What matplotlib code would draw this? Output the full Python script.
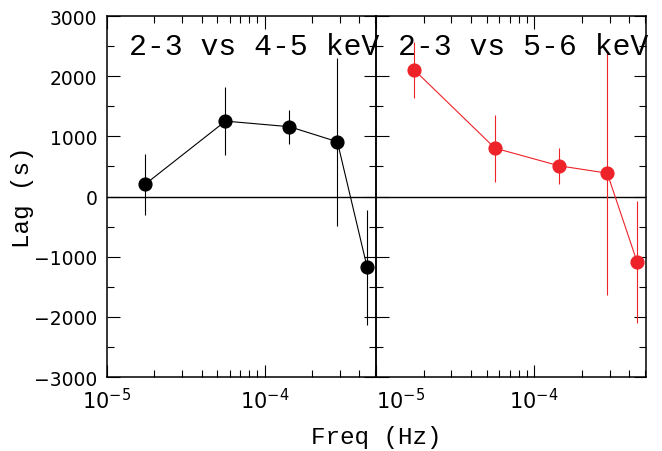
import numpy as np
import matplotlib.pyplot as plt
from matplotlib.ticker import MultipleLocator, LogLocator, NullFormatter

# frequency bins (Hz) and lags (s) with 1-sigma errors
freq = np.array([1.75e-5, 5.65e-5, 1.44e-4, 2.9e-4, 4.48e-4])
lag_45 = np.array([205, 1253, 1160, 910, -1176])
err_45 = np.array([505, 560, 280, 1400, 957])
lag_56 = np.array([2101, 804, 510, 388, -1087])
err_56 = np.array([470, 557, 297, 2030, 1010])

titles = ['2-3 vs 4-5 keV', '2-3 vs 5-6 keV']
xticks = [1e-5, 1e-4]
xticklabels = ['$10^{-5}$', '$10^{-4}$']

mono = 'Liberation Mono'
red = '#ee2229'

plt.rcParams['font.family'] = 'DejaVu Sans'
plt.rcParams['mathtext.fontset'] = 'dejavusans'

fig = plt.figure(figsize=(6.62, 4.52), dpi=100)
W, H = 662, 452
bottom = (H - 378) / H
height = 361 / H
ax1 = fig.add_axes([107 / W, bottom, 269 / W, height])
ax2 = fig.add_axes([376 / W, bottom, 270 / W, height])
ax2.set_facecolor('none')

for ax, lag, err, col, title in [(ax1, lag_45, err_45, 'black', titles[0]),
                                 (ax2, lag_56, err_56, red, titles[1])]:
    ax.axhline(0, color='black', lw=1.0, zorder=1)
    ax.errorbar(freq, lag, yerr=err, fmt='o-', color=col, ms=9.2, lw=0.8,
                elinewidth=0.8, capsize=0, zorder=3)
    ax.set_xscale('log')
    ax.set_xlim(1e-5, 5.1e-4)
    ax.set_ylim(-3000, 3000)
    ax.yaxis.set_major_locator(MultipleLocator(1000))
    ax.yaxis.set_minor_locator(MultipleLocator(500))
    ax.xaxis.set_minor_locator(LogLocator(base=10, subs=np.arange(2, 10)))
    ax.xaxis.set_minor_formatter(NullFormatter())
    ax.set_xticks(xticks, labels=xticklabels)
    ax.tick_params(which='both', direction='in', top=True, right=True, width=0.8)
    ax.tick_params(which='major', length=9, pad=7)
    ax.tick_params(which='minor', length=5)
    ax.tick_params(axis='x', labelsize=15)
    ax.tick_params(axis='y', labelsize=13.5)
    for s in ax.spines.values():
        s.set_linewidth(1.1)
    ax.text(0.082, 0.895, title, transform=ax.transAxes, family=mono,
            fontsize=21.5, va='baseline', ha='left', clip_on=False, zorder=5)

ax2.tick_params(axis='y', labelleft=False)
ax2.get_xticklabels()[0].set_ha('left')

fig.text(376.5 / W, (H - 438) / H, 'Freq (Hz)', family=mono, fontsize=17.5,
         ha='center', va='center')
fig.text(23 / W, (H - 197.5) / H, 'Lag (s)', family=mono, fontsize=17.5,
         ha='center', va='center', rotation=90)

fig.savefig('out.png', dpi=100)
